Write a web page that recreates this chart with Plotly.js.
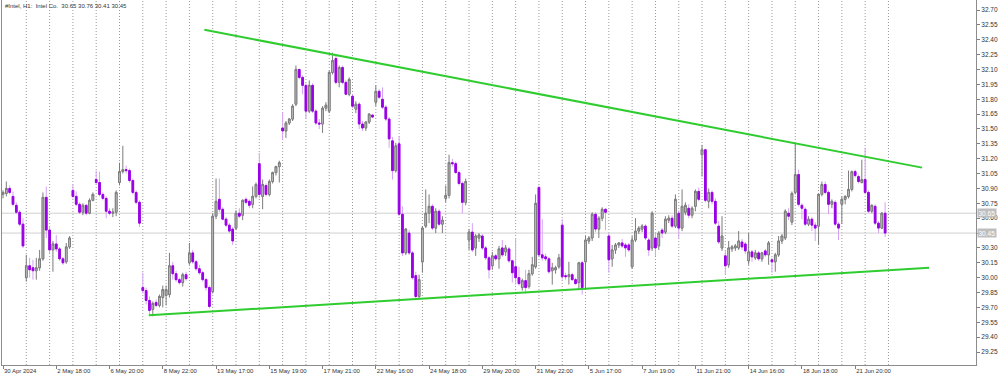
<!DOCTYPE html>
<html>
<head>
<meta charset="utf-8">
<script src="https://cdn.plot.ly/plotly-3.0.1.min.js"></script>
<style>html,body{margin:0;padding:0;background:#fff;}#chart{width:1000px;height:376px;}</style>
</head>
<body>
<div id="chart"></div>
<script>
const symbolTitle = '#Intel, H1:\u00a0\u00a0Intel Co.\u00a0\u00a030.65 30.76 30.41 30.45';
const timeLabels = ['30 Apr 2024','2 May 18:00','6 May 20:00','8 May 22:00','13 May 17:00','15 May 19:00','17 May 21:00','22 May 16:00','24 May 18:00','29 May 20:00','31 May 22:00','5 Jun 17:00','7 Jun 19:00','11 Jun 21:00','14 Jun 16:00','18 Jun 18:00','21 Jun 20:00'];
const barsPerLabel = 16;
const barsPerDay = 7;
const tradingDays = 38;
const priceLabels = ['29.25','29.40','29.55','29.70','29.85','30.00','30.15','30.30','30.45','30.60','30.75','30.90','31.05','31.20','31.35','31.50','31.65','31.80','31.95','32.10','32.25','32.40','32.55','32.70'];
const bidAsk = [30.65, 30.45];

const opens = [30.84,30.85,30.90,30.82,30.73,30.66,30.54,30.00,30.12,30.10,30.07,30.10,30.19,30.81,30.48,30.28,30.34,30.29,30.19,30.16,30.31,
30.88,30.82,30.74,30.66,30.73,30.65,30.78,
30.99,30.96,30.84,30.80,30.67,30.65,30.66,
30.96,31.07,31.09,31.08,30.98,30.86,30.76,
29.90,29.87,29.77,29.68,29.75,29.72,29.80,
29.82,29.83,30.12,30.04,29.98,29.95,30.03,
30.15,30.25,30.16,30.09,30.05,29.98,29.90,
29.86,30.62,30.79,30.69,30.59,30.53,30.49,
30.50,30.65,30.63,30.79,30.77,30.74,30.82,
31.15,30.82,30.93,30.84,30.97,31.06,31.12,
31.51,31.48,31.56,31.60,31.75,32.10,32.02,
31.94,31.68,31.94,31.68,31.56,31.55,31.71,
31.68,32.07,32.21,31.97,32.12,31.97,31.85,
31.83,31.70,31.75,31.55,31.51,31.57,31.64,
31.77,31.88,31.80,31.72,31.60,31.38,31.08,
31.35,30.64,30.25,30.45,30.25,30.02,29.81,
30.16,30.52,30.65,30.72,30.50,30.67,30.54,
30.80,30.83,31.16,31.15,31.06,30.95,30.76,
30.38,30.46,30.30,30.40,30.42,30.30,30.20,
30.12,30.22,30.19,30.30,30.26,30.29,30.17,
30.11,30.00,29.90,29.97,29.91,30.04,30.11,
30.91,30.23,30.21,30.19,30.07,30.08,30.11,
30.53,30.02,30.01,30.03,29.98,29.95,30.15,
30.16,30.37,30.40,30.64,30.49,30.60,30.69,
30.42,30.19,30.28,30.33,30.35,30.33,30.33,
30.11,30.38,30.47,30.49,30.52,30.38,30.30,
30.40,30.32,30.48,30.46,30.58,30.60,30.52,
30.65,30.50,30.66,30.70,30.63,30.72,30.87,
31.24,31.29,30.77,30.86,30.77,30.52,30.30,
30.22,30.13,30.29,30.30,30.30,30.36,30.34,
30.17,30.26,30.20,30.25,30.19,30.27,30.23,
30.18,30.16,30.23,30.37,30.40,30.65,30.56,
30.86,31.04,30.73,30.69,30.54,30.59,30.53,
30.52,30.84,30.94,30.86,30.74,30.76,30.54,
30.74,30.79,30.82,30.89,31.07,31.02,30.96,
30.99,30.86,30.67,30.72,30.55,30.50,30.65];

const highs = [30.88,30.97,30.93,30.87,30.76,30.68,30.60,30.23,30.20,30.18,30.20,30.28,30.86,30.92,30.52,30.37,30.43,30.31,30.21,30.35,30.42,
30.94,30.87,30.76,30.75,30.74,30.80,30.86,
31.08,31.07,30.86,30.82,30.70,30.70,30.88,
31.16,31.33,31.13,31.10,31.00,30.88,30.78,
30.05,29.90,29.81,29.76,29.78,29.83,29.92,
29.92,30.25,30.16,30.07,30.00,30.05,30.06,
30.35,30.28,30.18,30.13,30.07,30.00,29.92,
30.65,31.00,31.00,30.71,30.61,30.55,30.51,
30.68,30.70,30.79,30.81,30.79,30.92,30.96,
31.26,30.99,30.95,30.99,31.07,31.13,31.18,
31.67,31.58,31.61,31.75,32.14,32.11,32.04,
31.96,31.99,31.96,31.70,31.60,31.73,31.77,
32.09,32.27,32.25,32.14,32.14,31.99,32.02,
31.85,31.78,31.77,31.58,31.58,31.66,31.65,
31.94,31.90,31.92,31.74,31.62,31.42,31.36,
31.43,30.72,30.50,30.48,30.27,30.06,30.03,
30.52,30.89,30.84,30.74,30.70,30.69,30.62,
30.93,31.24,31.20,31.17,31.08,30.97,31.00,
30.49,30.55,30.44,30.45,30.44,30.32,30.22,
30.26,30.24,30.32,30.38,30.33,30.31,30.18,
30.40,30.11,29.99,30.08,30.08,30.21,30.84,
30.93,30.59,30.24,30.21,30.15,30.12,30.24,
30.59,30.05,30.16,30.05,30.00,30.16,30.17,
30.42,30.42,30.66,30.66,30.62,30.71,30.70,
30.45,30.33,30.35,30.36,30.39,30.35,30.35,
30.42,30.60,30.52,30.54,30.54,30.40,30.67,
30.45,30.47,30.50,30.62,30.63,30.63,30.84,
30.68,30.89,30.76,30.74,30.72,30.89,30.91,
31.34,31.30,30.90,30.88,30.80,30.57,30.62,
30.27,30.37,30.33,30.34,30.47,30.39,30.36,
30.45,30.28,30.28,30.27,30.26,30.29,30.37,
30.20,30.25,30.42,30.44,30.69,30.70,30.87,
31.36,31.09,30.75,30.71,30.62,30.61,30.56,
30.85,30.97,30.97,30.88,30.79,30.78,30.56,
30.82,30.83,31.08,31.08,31.09,31.04,31.19,
31.31,30.88,30.74,30.74,30.57,30.66,30.76];

const lows = [30.80,30.82,30.84,30.72,30.64,30.52,30.30,29.96,30.00,29.98,29.98,30.07,30.17,30.40,30.25,30.06,30.26,30.17,30.13,30.14,30.29,
30.80,30.72,30.64,30.63,30.63,30.64,30.77,
30.94,30.82,30.78,30.60,30.63,30.61,30.62,
30.93,31.05,31.05,30.96,30.84,30.74,30.51,
29.84,29.73,29.63,29.61,29.70,29.70,29.70,
29.72,29.80,29.98,29.96,29.93,29.91,29.97,
30.13,30.14,30.07,30.03,29.96,29.87,29.69,
29.84,30.59,30.66,30.58,30.51,30.45,30.33,
30.48,30.60,30.58,30.74,30.70,30.70,30.80,
30.80,30.69,30.82,30.82,30.95,31.03,30.96,
31.39,31.41,31.54,31.58,31.73,32.00,31.85,
31.60,31.66,31.66,31.54,31.50,31.46,31.68,
31.66,32.05,31.95,31.92,31.95,31.84,31.83,
31.71,31.66,31.50,31.48,31.48,31.55,31.61,
31.73,31.80,31.70,31.58,31.31,30.99,31.06,
30.62,30.22,30.23,30.23,29.98,29.79,29.79,
30.05,30.50,30.55,30.48,30.45,30.52,30.45,
30.76,30.80,31.12,31.05,30.93,30.65,30.73,
30.28,30.26,30.22,30.36,30.28,30.18,29.99,
30.08,30.17,30.09,30.21,30.22,30.15,29.95,
29.93,29.92,29.87,29.84,29.89,30.02,30.09,
30.21,30.17,30.17,30.04,29.93,30.04,30.09,
29.98,29.98,29.93,29.97,29.93,29.88,29.83,
29.88,30.34,30.37,30.46,30.40,30.57,30.48,
30.05,30.11,30.24,30.30,30.30,30.21,30.26,
30.09,30.36,30.44,30.46,30.38,30.22,30.27,
30.22,30.28,30.40,30.44,30.55,30.50,30.50,
30.40,30.47,30.63,30.60,30.60,30.67,30.77,
31.02,30.76,30.70,30.74,30.53,30.34,30.27,
30.03,30.10,30.26,30.27,30.28,30.28,30.24,
30.13,30.16,30.18,30.17,30.16,30.21,30.13,
30.05,30.06,30.21,30.34,30.38,30.58,30.53,
30.84,30.72,30.59,30.52,30.52,30.47,30.37,
30.33,30.82,30.84,30.64,30.70,30.52,30.38,
30.54,30.74,30.80,30.87,31.01,30.95,30.95,
30.84,30.65,30.65,30.53,30.45,30.49,30.41];

const closes = [30.86,30.90,30.86,30.74,30.66,30.54,30.32,30.12,30.08,30.07,30.10,30.19,30.81,30.48,30.28,30.34,30.29,30.19,30.15,30.31,30.40,
30.82,30.74,30.66,30.73,30.65,30.78,30.84,
30.96,30.84,30.80,30.67,30.65,30.66,30.86,
31.07,31.09,31.08,30.98,30.86,30.76,30.55,
29.87,29.77,29.67,29.74,29.72,29.81,29.88,
29.88,30.12,30.04,29.98,29.95,30.03,29.99,
30.25,30.16,30.09,30.05,29.98,29.90,29.71,
30.62,30.77,30.69,30.59,30.53,30.47,30.37,
30.65,30.62,30.78,30.76,30.73,30.82,30.94,
30.84,30.94,30.84,30.97,31.06,31.12,31.16,
31.48,31.56,31.60,31.73,32.10,32.02,31.94,
31.68,31.94,31.68,31.56,31.55,31.71,31.74,
32.07,32.19,31.97,32.12,31.97,31.85,32.00,
31.73,31.75,31.55,31.51,31.57,31.65,31.62,
31.88,31.82,31.72,31.60,31.40,31.08,31.33,
30.64,30.25,30.49,30.25,30.00,29.81,29.98,
30.50,30.65,30.72,30.50,30.67,30.54,30.58,
30.83,31.16,31.15,31.06,30.95,30.76,30.97,
30.46,30.28,30.42,30.43,30.30,30.20,30.08,
30.22,30.19,30.29,30.23,30.30,30.17,30.05,
30.00,29.94,29.97,29.90,30.04,30.13,30.75,
30.23,30.20,30.19,30.06,30.10,30.10,30.20,
30.01,30.01,30.03,29.98,29.94,30.15,29.90,
30.38,30.40,30.64,30.49,30.60,30.69,30.66,
30.18,30.28,30.33,30.35,30.32,30.30,30.28,
30.38,30.47,30.50,30.52,30.40,30.28,30.65,
30.30,30.45,30.45,30.59,30.60,30.52,30.79,
30.50,30.72,30.73,30.63,30.70,30.87,30.79,
31.29,30.78,30.86,30.77,30.55,30.36,30.42,
30.12,30.30,30.31,30.32,30.37,30.31,30.27,
30.26,30.21,30.25,30.19,30.25,30.23,30.35,
30.16,30.23,30.37,30.42,30.67,30.62,30.85,
31.04,30.74,30.70,30.54,30.59,30.53,30.50,
30.84,30.94,30.86,30.74,30.77,30.54,30.50,
30.79,30.82,30.89,31.07,31.03,30.97,30.99,
30.86,30.67,30.73,30.55,30.50,30.65,30.45];

// trend lines drawn on the chart: [bar position, price]
const upperTrendBars = [60.5, 276.1];
const upperTrendPrices = [32.50, 31.11];
const lowerTrendBars = [43.8, 278.2];
const lowerTrendPrices = [29.62, 30.10];

const barIndex = opens.map((_, i) => i);
const bodyHigh = opens.map((o, i) => Math.max(o, closes[i]));
const bodyLow = opens.map((o, i) => Math.min(o, closes[i]));
const dayStarts = Array.from({length: tradingDays}, (_, k) => (k + 1) * barsPerDay);

const BULL_FILL = '#CFCFCF', BULL_LINE = '#7C7C7C';
const BEAR_FILL = '#9A00E6', BEAR_WICK = '#D4A3F2';
const GREEN = '#2ECC2E';
const FONT = '"Liberation Sans", Arial, sans-serif';

const traces = [
  {
    type: 'candlestick', x: barIndex, open: opens, high: highs, low: lows, close: closes,
    increasing: {line: {color: BULL_LINE, width: 1}, fillcolor: BULL_FILL},
    decreasing: {line: {color: BEAR_WICK, width: 1}, fillcolor: BEAR_FILL},
    whiskerwidth: 0, hoverinfo: 'skip', showlegend: false
  },
  {
    type: 'candlestick', x: barIndex, open: opens, high: bodyHigh, low: bodyLow, close: closes,
    increasing: {line: {color: BULL_LINE, width: 1}, fillcolor: BULL_FILL},
    decreasing: {line: {color: BEAR_FILL, width: 1}, fillcolor: BEAR_FILL},
    whiskerwidth: 0, hoverinfo: 'skip', showlegend: false
  },
  {type: 'scatter', mode: 'lines', x: upperTrendBars, y: upperTrendPrices,
   line: {color: GREEN, width: 2}, hoverinfo: 'skip', showlegend: false},
  {type: 'scatter', mode: 'lines', x: lowerTrendBars, y: lowerTrendPrices,
   line: {color: GREEN, width: 2}, hoverinfo: 'skip', showlegend: false}
];

const xRange = [-0.3, 292.3];
const yRange = [29.119, 32.801];

const gridShapes = dayStarts.map(d => ({
  type: 'line', xref: 'x', yref: 'paper', x0: d, x1: d, y0: 0, y1: 1,
  line: {color: '#9A9A9A', width: 1, dash: '1px,2px'}, layer: 'below'
}));
const bidAskShapes = bidAsk.map(p => ({
  type: 'line', xref: 'paper', x0: 0, x1: 1, yref: 'y', y0: p, y1: p,
  line: {color: '#D0D0D0', width: 1}, layer: 'below'
}));

const layout = {
  width: 1000, height: 376,
  margin: {l: 2, r: 24, t: 0, b: 11, pad: 0},
  paper_bgcolor: '#FFFFFF', plot_bgcolor: '#FFFFFF',
  font: {family: FONT, size: 6.5, color: '#333333'},
  showlegend: false,
  boxgap: 0.28,
  xaxis: {
    type: 'linear', range: xRange, fixedrange: true,
    rangeslider: {visible: false},
    tickmode: 'array',
    tickvals: timeLabels.map((_, k) => k * barsPerLabel),
    ticktext: timeLabels,
    ticks: 'outside', ticklen: 3, tickcolor: '#808080', tickwidth: 1,
    ticklabelposition: 'outside right',
    tickfont: {family: FONT, size: 6, color: '#333333'},
    showgrid: false, zeroline: false,
    showline: true, mirror: true, linecolor: '#8C8C8C', linewidth: 1
  },
  yaxis: {
    type: 'linear', range: yRange, side: 'right', fixedrange: true,
    tickmode: 'array',
    tickvals: priceLabels.map(Number),
    ticktext: priceLabels.map(t => bidAsk.some(p => p.toFixed(2) === t) ? '' : t),
    ticks: 'outside', ticklen: 3, tickcolor: '#808080',
    tickfont: {family: FONT, size: 6.5, color: '#333333'},
    showgrid: false, zeroline: false,
    showline: true, mirror: true, linecolor: '#8C8C8C', linewidth: 1
  },
  shapes: gridShapes.concat(bidAskShapes),
  annotations: [
    {xref: 'paper', yref: 'paper', x: 0, y: 1, xanchor: 'left', yanchor: 'top',
     xshift: 1, yshift: -1, showarrow: false, text: symbolTitle,
     font: {family: FONT, size: 6, color: '#333333'}}
  ].concat(bidAsk.map(p => ({
    xref: 'paper', yref: 'y', x: 1, y: p, xanchor: 'left', yanchor: 'middle',
    xshift: 1, showarrow: false, text: p.toFixed(2),
    bgcolor: '#BEBEBE', borderpad: 0.5,
    font: {family: FONT, size: 6.5, color: '#FFFFFF'}
  })))
};

Plotly.newPlot('chart', traces, layout, {displayModeBar: false, staticPlot: true});
</script>
</body>
</html>
